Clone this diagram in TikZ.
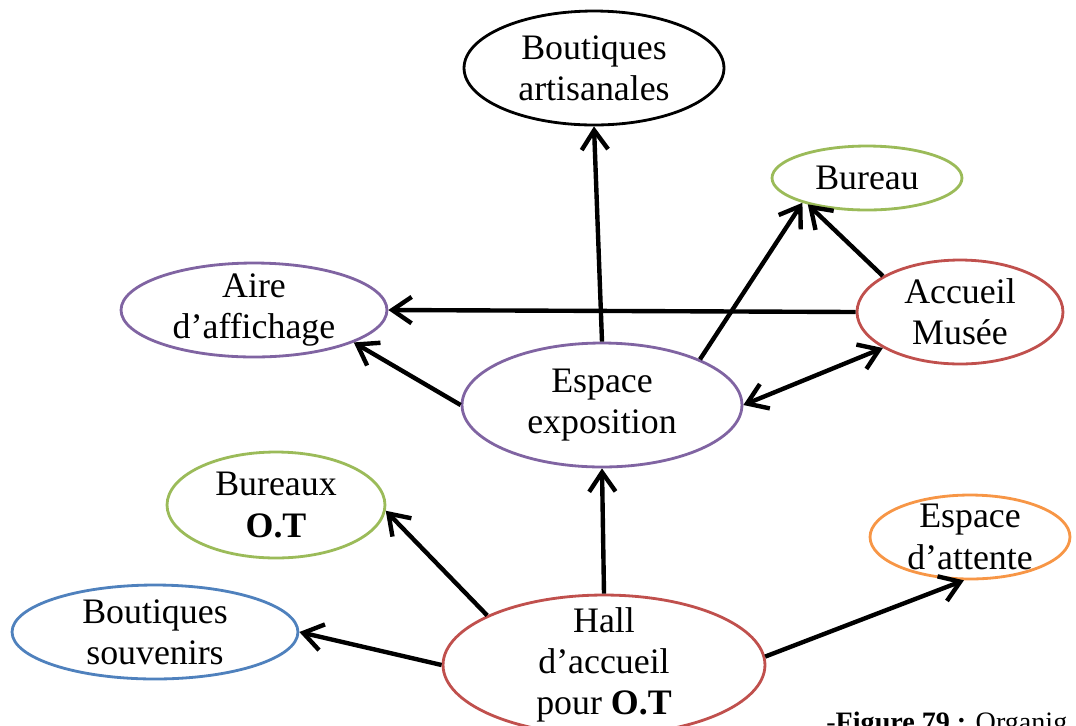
\documentclass[tikz,border=0pt]{standalone}
\usepackage{fontspec}
\setmainfont{Liberation Serif}
\usetikzlibrary{shapes.geometric,arrows.meta,positioning}
\usepackage{xcolor}
\definecolor{Violet}{HTML}{8064A2}
\definecolor{Olive}{HTML}{9BBB59}
\definecolor{Brick}{HTML}{C0504D}
\definecolor{Steel}{HTML}{4F81BD}
\definecolor{Amber}{HTML}{F79646}
\tikzset{
  oval/.style={ellipse,draw=#1,line width=1.6pt,fill=white,
               font=\fontsize{20.4}{23.5}\selectfont,align=center,
               inner xsep=0pt,inner ysep=-8pt},
  link/.style={-{Straight Barb[length=11pt,width=15pt]},line width=2.5pt,black},
  dlink/.style={{Straight Barb[length=11pt,width=15pt]}-{Straight Barb[length=11pt,width=15pt]},line width=2.5pt,black},
}

\begin{document}
\begin{tikzpicture}[x=0.02cm,y=-0.02cm]
    \useasboundingbox (0,0) rectangle (1076,725);
    \clip (0,0) rectangle (1076,725);

    % les espaces
    \node[oval=black,minimum width=5.2cm,minimum height=2.28cm] (artis) at (594,68) {Boutiques\\artisanales};
    \node[oval=Olive,minimum width=3.8cm,minimum height=1.28cm] (bureau) at (867,178) {Bureau};
    \node[oval=Violet,minimum width=5.32cm,minimum height=1.88cm] (aire) at (254,310) {Aire\\d’affichage};
    \node[oval=Brick,minimum width=4.12cm,minimum height=2.08cm] (accueil) at (960,312) {Accueil\\Musée};
    \node[oval=Violet,minimum width=5.6cm,minimum height=2.48cm] (expo) at (602,405) {Espace\\exposition};
    \node[oval=Olive,minimum width=4.36cm,minimum height=2.12cm] (bureaux) at (276,505) {Bureaux\\\textbf{O.T}};
    \node[oval=Amber,minimum width=4.0cm,minimum height=1.68cm] (attente) at (970,537) {Espace\\d’attente};
    \node[oval=Steel,minimum width=5.72cm,minimum height=1.88cm] (souvenirs) at (155,632) {Boutiques\\souvenirs};
    \node[oval=Brick,minimum width=6.44cm,minimum height=2.8cm] (hall) at (604,665) {Hall\\d’accueil\\pour \textbf{O.T}};

    % les liaisons
    \draw[link] (expo.north) -- (artis.south);
    \draw[link] (expo.25) -- (bureau.201);
    \draw[link] (accueil.155) -- (bureau.204);
    \draw[link] (accueil.west) -- (aire.east);
    \draw[link] (expo.west) -- (aire.-18);
    \draw[dlink] (expo.east) -- (accueil.205);
    \draw[link] (hall.north) -- (expo.south);
    \draw[link] (hall.157) -- (bureaux.-3);
    \draw[link] (hall.west) -- (souvenirs.east);
    \draw[link] (hall.3) -- (attente.262);

    \node[anchor=base west,inner sep=0pt,font=\fontsize{16}{19}\selectfont] (caption) at (826,731) {-\textbf{Figure 79 :} Organig};
\end{tikzpicture}
\end{document}
